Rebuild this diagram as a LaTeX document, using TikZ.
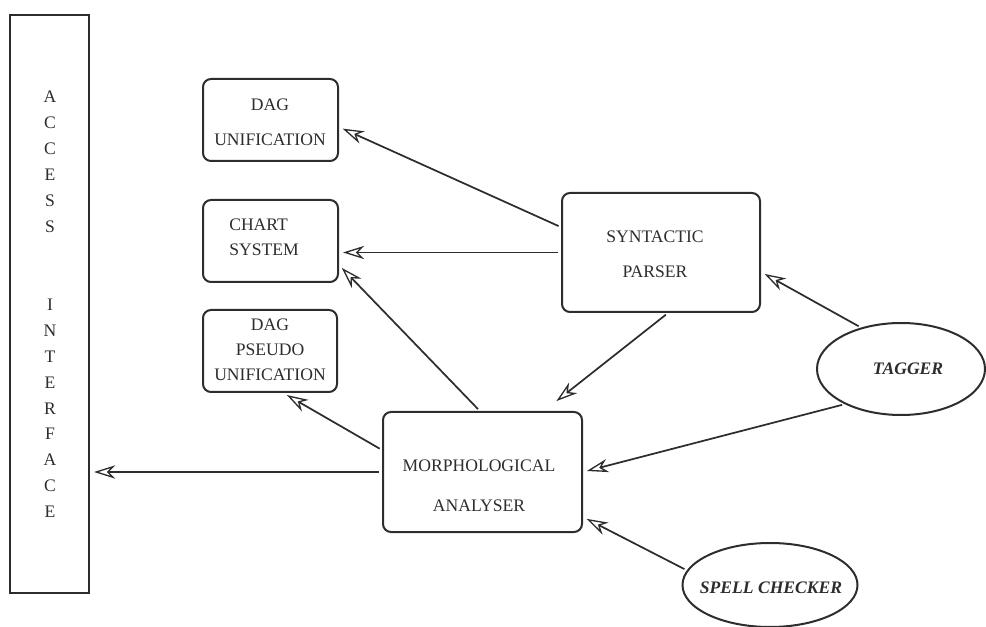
\documentclass[tikz,border=0pt]{standalone}
\usepackage{fontspec}
\setmainfont{Liberation Serif}
\usetikzlibrary{arrows.meta,shapes.geometric,calc}
\definecolor{ink}{RGB}{45,45,45}
\newcommand{\fsz}[1]{\fontsize{13.2pt}{#1}\selectfont}
\begin{document}
\begin{tikzpicture}[x=0.75pt,y=-0.75pt,
  box/.style={draw=ink, line width=1.5pt, rounded corners=6pt, inner sep=0pt},
  sharpbox/.style={draw=ink, line width=1.5pt, inner sep=0pt},
  oval/.style={draw=ink, line width=1.5pt, ellipse, inner sep=0pt},
  lbl/.style={text=ink, inner sep=0pt, align=center},
  conn/.style={draw=ink, line width=1.3pt,
    -{Stealth[open,length=16pt,width=10pt,inset=5pt,line width=1pt]},
    shorten >=3pt, shorten <=2pt}
]
\useasboundingbox (0,0) rectangle (986,627);

% boxes
\node[sharpbox, minimum width=59.25pt, minimum height=433.5pt] (acc) at (49.5,304) {};
\node[box, minimum width=101.25pt, minimum height=61.5pt] (dagu) at (270.5,120) {};
\node[box, minimum width=101.25pt, minimum height=61.5pt] (chart) at (270.5,241) {};
\node[box, minimum width=100.5pt, minimum height=61.5pt] (dagp) at (270,351) {};
\node[box, minimum width=148.5pt, minimum height=89.25pt] (synt) at (661,252.5) {};
\node[box, minimum width=149.25pt, minimum height=90pt] (morph) at (482.5,472) {};
\node[oval, minimum width=126pt, minimum height=69pt] (tagger) at (901,369) {};
\node[oval, minimum width=131.25pt, minimum height=63pt] (spell) at (770,585) {};

% texts
\node[lbl, font=\fsz{19.45pt}] (accT) at (50,304.5)
  {A\\C\\C\\E\\S\\S\\[38.9pt]I\\N\\T\\E\\R\\F\\A\\C\\E};
\node[lbl, font=\fsz{26.25pt}] (daguT) at (270,122.5) {DAG\\UNIFICATION};
\node[lbl, align=left, font=\fsz{18.75pt}] (chartT) at (264,237.5) {CHART\\SYSTEM};
\node[lbl, font=\fsz{18.75pt}] (dagpT) at (270,350) {DAG\\PSEUDO\\UNIFICATION};
\node[lbl, font=\fsz{26.25pt}] (syntT) at (655,254.5) {SYNTACTIC\\PARSER};
\node[lbl, font=\fsz{30pt}] (morphT) at (479,486) {MORPHOLOGICAL\\ANALYSER};
\node[lbl, font=\fsz{16pt}\bfseries\itshape] (taggerT) at (908,369) {TAGGER};
\node[lbl, font=\fsz{16pt}\bfseries\itshape] (spellT) at (771,588) {SPELL CHECKER};

% connectors
\draw[conn] ([yshift=19pt]synt.west) -- ([yshift=-5.25pt]dagu.east);
\draw[conn] (synt.west) -- (synt.west -| chart.east);
\draw[conn] ([xshift=-2pt]morph.north) -- ([yshift=-18pt]chart.east);
\draw[conn] ([yshift=16.5pt]morph.west) -- ([xshift=10pt]dagp.south);
\draw[conn] (morph.west) -- (morph.west -| acc.east);
\draw[conn, shorten >=12pt] ([xshift=5.25pt]synt.south) -- ([xshift=46pt]morph.north);
\draw[conn] (tagger.134) -- ([yshift=-14.6pt]synt.east);
\draw[conn] (tagger.212) -- (morph.east);
\draw[conn] (spell.170) -- ([yshift=-33.75pt]morph.east);
\end{tikzpicture}
\end{document}
